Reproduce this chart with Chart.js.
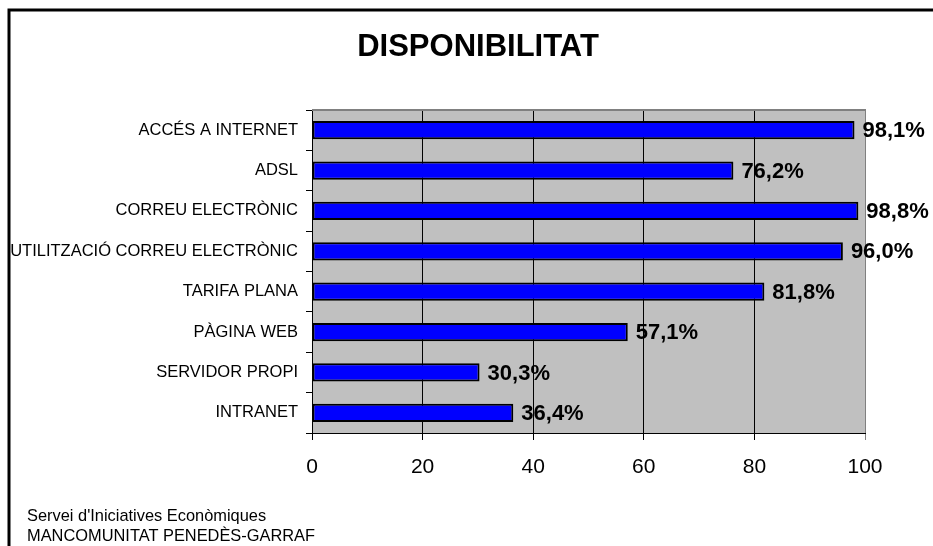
<!DOCTYPE html>
<html>
<head>
<meta charset="utf-8">
<script src="https://cdn.jsdelivr.net/npm/chart.js@4/dist/chart.umd.min.js"></script>
<style>
  html, body { margin: 0; padding: 0; background: #fff; }
  #chart { display: block; }
</style>
</head>
<body>
<canvas id="chart" width="933" height="546"></canvas>
<script>
const titleText = 'DISPONIBILITAT';
const categories = [
  'ACCÉS A INTERNET',
  'ADSL',
  'CORREU ELECTRÒNIC',
  'UTILITZACIÓ CORREU ELECTRÒNIC',
  'TARIFA PLANA',
  'PÀGINA WEB',
  'SERVIDOR PROPI',
  'INTRANET'
];
const values = [98.1, 76.2, 98.8, 96.0, 81.8, 57.1, 30.3, 36.4];
const xTicks = [0, 20, 40, 60, 80, 100];
const footerLines = ["Servei d'Iniciatives Econòmiques", 'MANCOMUNITAT PENEDÈS-GARRAF'];

const FONT = "'Liberation Sans', Arial, sans-serif";

// gray plot background, drawn before the grid
const plotBg = {
  id: 'plotBg',
  beforeDraw(chart) {
    const { ctx, chartArea: a } = chart;
    ctx.save();
    ctx.fillStyle = '#c0c0c0';
    ctx.fillRect(a.left, a.top, a.right - a.left, a.bottom - a.top);
    ctx.restore();
  },
  beforeDatasetsDraw(chart) {
    const { ctx, chartArea: a } = chart;
    ctx.save();
    ctx.strokeStyle = '#808080';
    ctx.lineWidth = 2;
    ctx.beginPath();
    ctx.moveTo(a.left, a.top);
    ctx.lineTo(a.right + 1, a.top);
    ctx.stroke();
    ctx.restore();
  }
};

// title, footer, outer frame, value labels
const decorations = {
  id: 'decorations',
  afterDraw(chart) {
    const ctx = chart.ctx;
    ctx.save();

    ctx.strokeStyle = '#000';
    ctx.lineWidth = 3;
    ctx.beginPath();
    ctx.moveTo(9, 546);
    ctx.lineTo(9, 10);
    ctx.lineTo(933, 10);
    ctx.stroke();

    ctx.fillStyle = '#000';
    ctx.font = 'bold 31px ' + FONT;
    ctx.textAlign = 'center';
    ctx.textBaseline = 'middle';
    ctx.fillText(titleText, 478, 47);

    ctx.font = '16.4px ' + FONT;
    ctx.textAlign = 'left';
    ctx.textBaseline = 'alphabetic';
    footerLines.forEach((line, i) => ctx.fillText(line, 27, 521 + i * 20));

    const meta = chart.getDatasetMeta(0);
    ctx.font = 'bold 22px ' + FONT;
    ctx.textBaseline = 'middle';
    meta.data.forEach((bar, i) => {
      const label = values[i].toFixed(1).replace('.', ',') + '%';
      ctx.fillText(label, bar.x + 8, bar.y + 1);
    });

    ctx.restore();
  }
};

new Chart(document.getElementById('chart'), {
  type: 'bar',
  data: {
    labels: categories,
    datasets: [{
      data: values,
      backgroundColor: '#0000ff',
      borderColor: '#000',
      borderWidth: 2,
      borderSkipped: false,
      barPercentage: 0.45,
      categoryPercentage: 1
    }]
  },
  options: {
    indexAxis: 'y',
    responsive: false,
    devicePixelRatio: 1,
    animation: false,
    layout: { padding: { top: 110, right: 68, bottom: 0, left: 0 } },
    plugins: {
      legend: { display: false },
      tooltip: { enabled: false },
      title: { display: false }
    },
    scales: {
      x: {
        min: 0,
        max: 100,
        afterBuildTicks(scale) {
          scale.ticks = xTicks.map(v => ({ value: v }));
        },
        afterFit(scale) { scale.height = 113; },
        grid: {
          color: c => (c.tick && c.tick.value === 100) ? '#808080' : '#000',
          lineWidth: 1,
          tickLength: 7
        },
        border: { color: '#000', width: 1 },
        ticks: {
          color: '#000',
          font: { family: FONT, size: 21 },
          padding: 15,
          maxRotation: 0
        }
      },
      y: {
        afterFit(scale) { scale.width = 312; },
        grid: {
          drawOnChartArea: false,
          offset: true,
          color: '#000',
          tickLength: 6
        },
        border: { color: '#000', width: 1 },
        ticks: {
          color: '#000',
          font: { family: FONT, size: 16.5 },
          padding: 8
        }
      }
    }
  },
  plugins: [plotBg, decorations]
});
</script>
</body>
</html>
